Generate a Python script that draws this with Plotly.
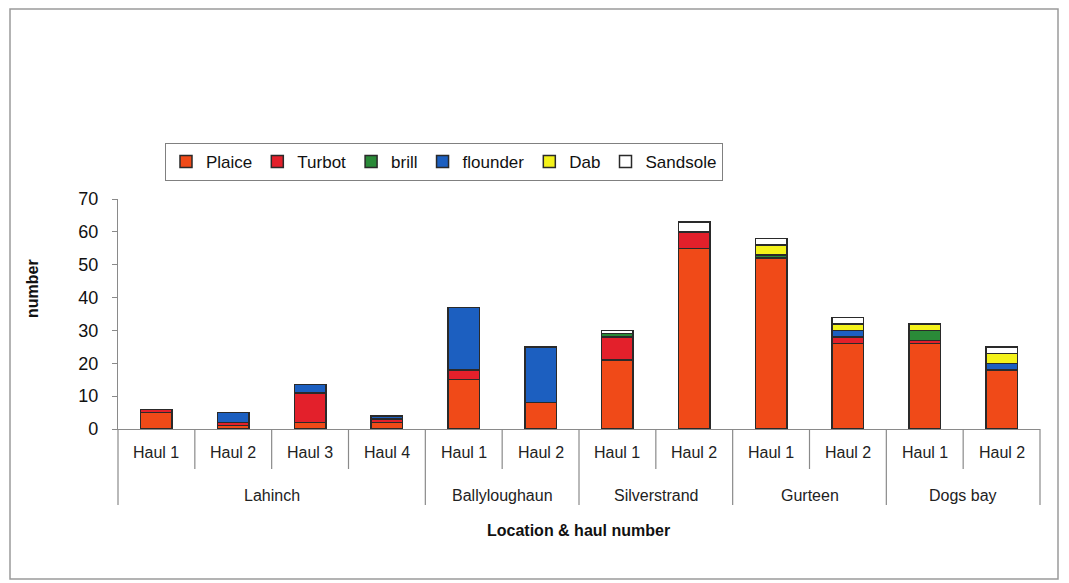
import plotly.graph_objects as go

# ---- data --------------------------------------------------------------
locations = ["Lahinch", "Lahinch", "Lahinch", "Lahinch",
             "Ballyloughaun", "Ballyloughaun", "Silverstrand", "Silverstrand",
             "Gurteen", "Gurteen", "Dogs bay", "Dogs bay"]
hauls = ["Haul 1", "Haul 2", "Haul 3", "Haul 4", "Haul 1", "Haul 2",
         "Haul 1", "Haul 2", "Haul 1", "Haul 2", "Haul 1", "Haul 2"]

plaice = [5, 1, 2, 2, 15, 8, 21, 55, 52, 26, 26, 18]
turbot = [1, 1, 9, 1, 3, 0, 7, 5, 0, 2, 1, 0]
brill = [0, 0, 0, 0, 0, 0, 1, 0, 1, 0, 3, 0]
flounder = [0, 3, 2.5, 1, 19, 17, 0, 0, 0, 2, 0, 2]
dab = [0, 0, 0, 0, 0, 0, 0, 0, 3, 2, 2, 3]
sandsole = [0, 0, 0, 0, 0, 0, 1, 3, 2, 2, 0, 2]

species = ["Plaice", "Turbot", "brill", "flounder", "Dab", "Sandsole"]
series = [plaice, turbot, brill, flounder, dab, sandsole]
colors = ["#f04a18", "#e3202b", "#2a8a38", "#1c5fc0", "#f4f21a", "#ffffff"]

# ---- pixel helpers (screen coords of a 1069 x 583 window) ---------------
# the page body adds an 8px margin, so the figure is drawn 8px smaller
OFF = 8
W, H = 1069 - OFF, 583 - OFF
L, R, T, B = 118, 1040, 199, 429   # plot area on screen


def px_x(p):
    return (p - L) / (R - L)


def px_y(p):
    return (B - p) / (B - T)


n = len(hauls)
xs = list(range(n))
FONT = "Liberation Sans, Arial, sans-serif"

fig = go.Figure()
for name, vals, col in zip(species, series, colors):
    fig.add_trace(go.Bar(
        x=xs, y=[v if v else None for v in vals], name=name,
        marker=dict(color=col, line=dict(color="#2a2a2a", width=1.5)),
        width=0.41,
    ))

# haul labels, group labels and dividers under the axis
x_lo, x_hi = -0.5, n - 0.5
for i, h in enumerate(hauls):
    fig.add_annotation(x=i, y=px_y(452), xref="x", yref="paper", text=h,
                       showarrow=False, yanchor="middle",
                       font=dict(size=16, color="#222", family=FONT))

groups = []
for i, loc in enumerate(locations):
    if not groups or groups[-1][0] != loc:
        groups.append([loc, i, i])
    else:
        groups[-1][2] = i
for loc, a, b in groups:
    fig.add_annotation(x=(a + b) / 2, y=px_y(495), xref="x", yref="paper",
                       text=loc, showarrow=False, yanchor="middle",
                       font=dict(size=16, color="#222", family=FONT))

group_edges = {a - 0.5 for _, a, _ in groups} | {b + 0.5 for _, _, b in groups}
for k in range(n + 1):
    edge = k - 0.5
    xp = (edge - x_lo) / (x_hi - x_lo)
    bottom = 505 if edge in group_edges else 469
    fig.add_shape(type="line", xref="paper", yref="paper",
                  x0=xp, x1=xp, y0=0, y1=px_y(bottom),
                  line=dict(color="#8a8a8a", width=1.2))

fig.add_annotation(x=px_x(578), y=px_y(530), xref="paper", yref="paper",
                   text="<b>Location &amp; haul number</b>", showarrow=False,
                   yanchor="middle", font=dict(size=16, color="#111", family=FONT))
fig.add_annotation(x=px_x(32), y=px_y(289), xref="paper", yref="paper",
                   text="<b>number</b>", showarrow=False, textangle=-90,
                   xanchor="center", yanchor="middle",
                   font=dict(size=16, color="#111", family=FONT))

# outer frame
fig.add_shape(type="rect", xref="paper", yref="paper",
              x0=px_x(10), x1=px_x(1058), y0=px_y(579), y1=px_y(9),
              line=dict(color="#9a9a9a", width=1.5))

fig.update_layout(
    barmode="stack",
    width=W, height=H,
    margin=dict(l=L - OFF, r=W - (R - OFF), t=T - OFF, b=H - (B - OFF),
                autoexpand=False),
    plot_bgcolor="white", paper_bgcolor="white",
    font=dict(family=FONT, size=17, color="#111"),
    xaxis=dict(range=[x_lo, x_hi], showticklabels=False, ticks="",
               showgrid=False, zeroline=False, showline=True,
               linecolor="#8a8a8a", linewidth=1.2),
    yaxis=dict(range=[0, 70], dtick=10, ticks="outside", ticklen=5,
               tickcolor="#8a8a8a", ticklabelstandoff=10,
               showgrid=False, zeroline=False, showline=True,
               linecolor="#8a8a8a", linewidth=1.2,
               tickfont=dict(size=18, color="#111")),
    legend=dict(orientation="h", x=px_x(165), y=px_y(143),
                xanchor="left", yanchor="top", traceorder="normal",
                bordercolor="#808080", borderwidth=1, bgcolor="white",
                itemwidth=30, font=dict(size=17, color="#111")),
    showlegend=True,
)

fig.write_html("out.html")
